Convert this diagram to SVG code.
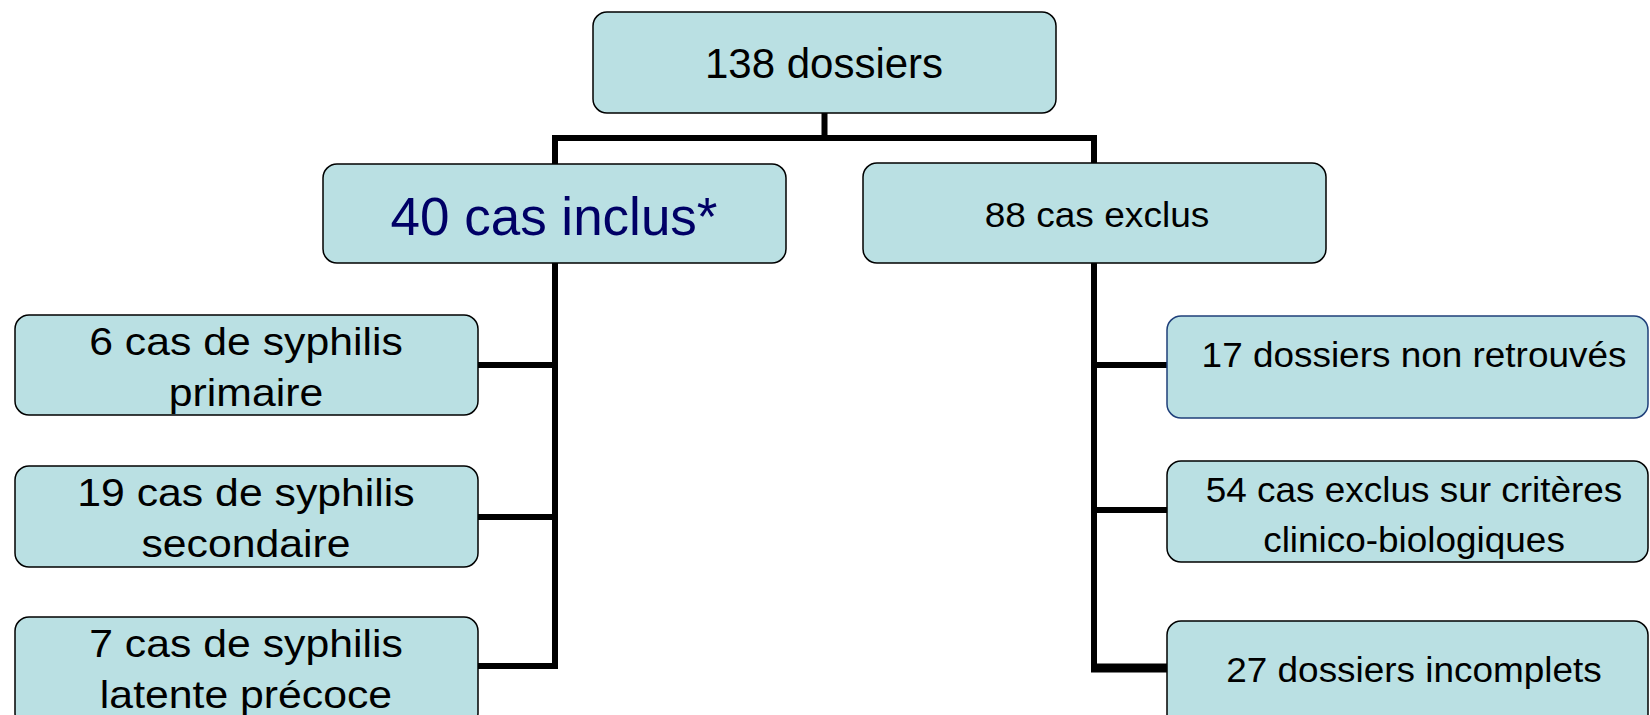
<svg xmlns="http://www.w3.org/2000/svg" width="1650" height="715" viewBox="0 0 1650 715">
<style>
.box{fill:#BAE0E3;stroke:#000;stroke-width:1.5}
.bb{stroke:#1F3F7A}
text{font-family:"Liberation Sans",Arial,sans-serif;fill:#000;text-anchor:middle}
.l42{font-size:42px}
.l38{font-size:38px}
.l35{font-size:35px}
.big{font-size:53px;fill:#000066}
.conn{fill:none;stroke:#000;stroke-width:6;stroke-linejoin:miter}
</style>
<rect width="1650" height="715" fill="#fff"/>
<g id="connectors">
<path class="conn" d="M824.5 113V138M555 164V138H1094V164"/>
<path class="conn" d="M555 263V666H478M555 365H478M555 517H478"/>
<path class="conn" d="M1094 263V668M1094 365H1167M1094 510H1167"/>
<path class="conn" style="stroke-width:9" d="M1091 668H1167"/>
</g>
<g id="n138"><rect class="box" x="593" y="12" width="463" height="101" rx="14"/><text class="l42" x="824" y="78">138 dossiers</text></g>
<g id="inclus"><rect class="box" x="323" y="164" width="463" height="99" rx="14"/><text class="big" x="554" y="235">40 cas inclus*</text></g>
<g id="exclus"><rect class="box" x="863" y="163" width="463" height="100" rx="14"/><text class="l35" transform="translate(1097,227) scale(1.06,1)">88 cas exclus</text></g>
<g id="primaire"><rect class="box" x="15" y="315" width="463" height="100" rx="14"/><g transform="translate(246,0) scale(1.125,1)"><text class="l38" x="0" y="355">6 cas de syphilis</text><text class="l38" x="0" y="406">primaire</text></g></g>
<g id="secondaire"><rect class="box" x="15" y="466" width="463" height="101" rx="14"/><g transform="translate(246,0) scale(1.125,1)"><text class="l38" x="0" y="506">19 cas de syphilis</text><text class="l38" x="0" y="557">secondaire</text></g></g>
<g id="latente"><rect class="box" x="15" y="617" width="463" height="110" rx="14"/><g transform="translate(246,0) scale(1.125,1)"><text class="l38" x="0" y="657">7 cas de syphilis</text><text class="l38" x="0" y="708">latente précoce</text></g></g>
<g id="nonretrouves"><rect class="box bb" x="1167" y="316" width="481" height="102" rx="14"/><text class="l35" transform="translate(1414,367) scale(1.055,1)">17 dossiers non retrouvés</text></g>
<g id="criteres"><rect class="box" x="1167" y="461" width="481" height="101" rx="14"/><g transform="translate(1414,0) scale(1.055,1)"><text class="l35" x="0" y="502">54 cas exclus sur critères</text><text class="l35" x="0" y="552">clinico-biologiques</text></g></g>
<g id="incomplets"><rect class="box" x="1167" y="621" width="481" height="110" rx="14"/><text class="l35" transform="translate(1414,682) scale(1.055,1)">27 dossiers incomplets</text></g>
</svg>
